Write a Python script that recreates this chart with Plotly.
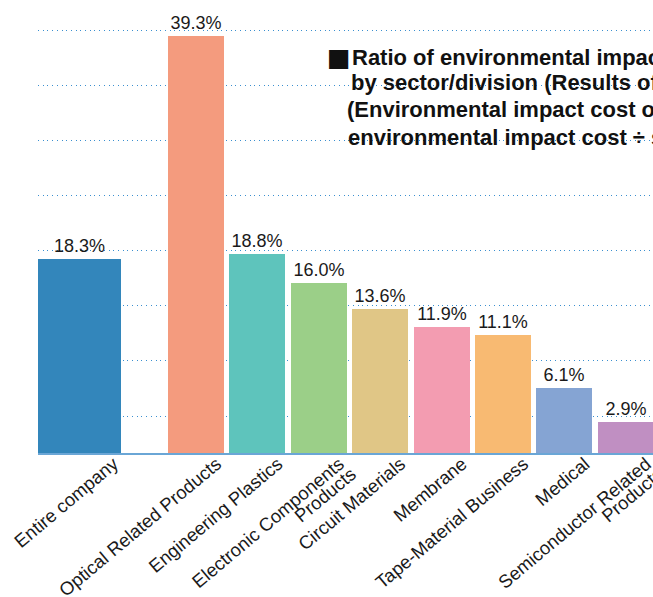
import plotly.graph_objects as go

categories = [
    "Entire company",
    "Optical Related Products",
    "Engineering Plastics",
    "Electronic Components<br>Products",
    "Circuit Materials",
    "Membrane",
    "Tape-Material Business",
    "Medical",
    "Semiconductor Related<br>Products",
]
values = [18.3, 39.3, 18.8, 16.0, 13.6, 11.9, 11.1, 6.1, 2.9]
bar_labels = [f"{v:.1f}%" for v in values]
colors = ["#3386bb", "#f49b7e", "#5ec4bc", "#9bcf88", "#e0c686",
          "#f39cb1", "#f8ba72", "#85a4d3", "#c08fc2"]
title_lines = [
    "Ratio of environmental impact cost",
    "by sector/division (Results of FY2022)",
    "(Environmental impact cost of each sector ÷",
    "environmental impact cost ÷ sales)",
]

# body margin is removed by the post script, so the figure fills the window
OFF = 0
W, H = 653 - OFF, 597 - OFF
# desired page-pixel geometry
PL, PT, PBASE = 38, 20, 453
L, T = PL - OFF, PT - OFF
B = H - (PBASE - OFF)
plot_w = W - L
plot_h = H - T - B
xs = [0.103] + [i + 2 for i in range(len(categories) - 1)]
widths = [1.352] + [0.91] * (len(categories) - 1)
tickvals = [x + w / 2 - 0.12 for x, w in zip(xs, widths)]
first_lines = [c.split("<br>")[0] for c in categories]
second_idx = [i for i, c in enumerate(categories) if "<br>" in c]
second_lines = [categories[i].split("<br>")[1] for i in second_idx]
second_vals = [tickvals[i] for i in second_idx]

FONT = "Liberation Sans, Arial, Helvetica, sans-serif"
XRANGE = [-0.573, 9.443]
TICKFONT = dict(family=FONT, size=18.5, color="#1a1a1a")

fig = go.Figure()
fig.add_trace(go.Bar(
    x=xs, y=values, width=widths,
    marker=dict(color=colors, line=dict(width=0)),
    text=bar_labels, textposition="outside", cliponaxis=False,
    constraintext="none",
    textfont=dict(family=FONT, size=18, color="#1a1a1a"),
    hoverinfo="skip",
))
# empty helper trace so the second-line label axis is drawn
fig.add_trace(go.Scatter(x=[], y=[], xaxis="x2", yaxis="y", hoverinfo="skip"))

def px_x(p):
    return (p - OFF - L) / plot_w

def px_y(p):
    return (PBASE - p) / plot_h

annotations = [dict(
    text="■", xref="paper", yref="paper", x=px_x(325), y=px_y(57),
    xanchor="left", yanchor="middle", showarrow=False,
    font=dict(family="DejaVu Sans", size=25, color="#111"),
)]
line_x = [350, 349, 345, 346]
line_y = [57, 83, 110, 137]
for txt, lx, ly in zip(title_lines, line_x, line_y):
    annotations.append(dict(
        text=txt, xref="paper", yref="paper", x=px_x(lx), y=px_y(ly),
        xanchor="left", yanchor="middle", showarrow=False, align="left",
        font=dict(family=FONT, size=22, color="#111", weight="bold"),
    ))

fig.update_layout(
    width=W, height=H,
    margin=dict(l=L, r=0, t=T, b=B, pad=0),
    paper_bgcolor="white", plot_bgcolor="white",
    showlegend=False,
    bargap=0,
    annotations=annotations,
    xaxis=dict(
        range=XRANGE, tickmode="array", tickvals=tickvals,
        ticktext=first_lines, tickangle=-40, ticks="",
        tickfont=TICKFONT, automargin=False, ticklabeloverflow="allow",
        ticklabelstandoff=-9,
        showgrid=False, zeroline=False,
        showline=True, linecolor="#6aa6d6", linewidth=2,
    ),
    xaxis2=dict(
        range=XRANGE, overlaying="x", side="bottom", anchor="y",
        tickmode="array", tickvals=second_vals, ticktext=second_lines,
        tickangle=-40, ticks="", tickfont=TICKFONT, automargin=False,
        ticklabeloverflow="allow", ticklabelstandoff=6, ticklabelshift=12,
        showgrid=False, zeroline=False, showline=False,
    ),
    yaxis=dict(
        range=[0, plot_h / 10.6], showticklabels=False, ticks="",
        tick0=3.49, dtick=5.19, automargin=False,
        showgrid=True, gridcolor="#3a8fd0", griddash="1px,3.7px", gridwidth=1,
        zeroline=False,
    ),
)

fig.write_html(
    "out.html",
    config={"displayModeBar": False},
    post_script="document.body.style.margin='0';"
                "document.documentElement.style.overflow='hidden';",
)
